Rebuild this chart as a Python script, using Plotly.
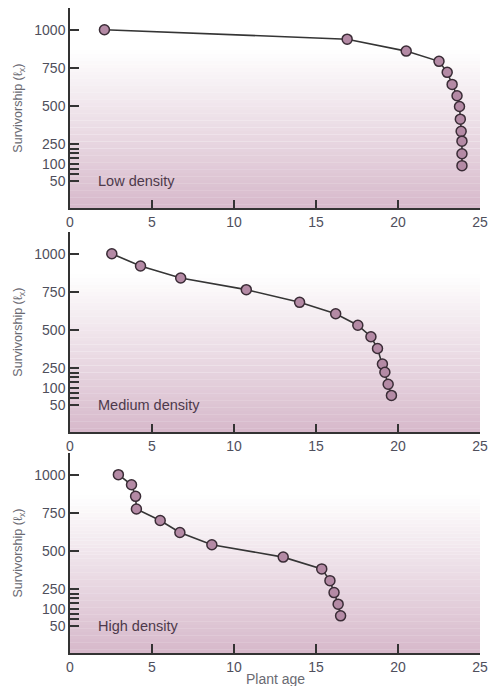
import numpy as np
import plotly.graph_objects as go

# ---------------- data ----------------
panel_labels = ["Low density", "Medium density", "High density"]

low_age = [2.1, 16.9, 20.5, 22.5, 23.0, 23.3, 23.6, 23.75, 23.8, 23.85, 23.9, 23.9, 23.9]
low_lx = [1000, 938, 860, 793, 721, 642, 568, 498, 415, 335, 271, 178, 95]

med_age = [2.55, 4.3, 6.75, 10.75, 14.0, 16.2, 17.55, 18.35, 18.75, 19.05, 19.2, 19.4, 19.6]
med_lx = [1000, 920, 841, 765, 682, 607, 532, 457, 380, 278, 220, 128, 78]

high_age = [2.95, 3.75, 4.0, 4.05, 5.5, 6.7, 8.65, 13.0, 15.35, 15.85, 16.1, 16.35, 16.5]
high_lx = [1000, 934, 858, 775, 700, 621, 541, 460, 383, 306, 224, 135, 79]

x_ticks = [0, 5, 10, 15, 20, 25]
y_tick_labels = ["1000", "750", "500", "250", "100", "50"]
y_tick_values = [1000, 750, 500, 250, 100, 50]

# The printed survivorship axis is linear above 250 and stretched below it.
scale_values = [50, 100, 250, 1000]
scale_pos = [11, 122, 250, 1000]


def to_axis(v):
    return np.interp(np.asarray(v, dtype=float), scale_values, scale_pos)


minor_pos = [220, 191, 158, 89, 55]  # unlabeled ticks of the stretched part

series = [(low_age, low_lx), (med_age, med_lx), (high_age, high_lx)]

# ---------------- figure ----------------
W, H = 488, 686
ml, mr, mt, mb = 70, 8, 8, 33
domains = [[0.6895, 1.0], [0.3422, 0.6527], [0.0, 0.3101]]
y_range = [-168, 1142]

fig = go.Figure()

FONT = "Liberation Sans, Arial, Helvetica, sans-serif"
tick_color = "#4f4f5c"
mark_fill = "#b48aa5"
mark_edge = "#3a2c36"
line_col = "#353535"

bottom_rgb = np.array([215, 185, 203])
top_rgb = np.array([255, 255, 255])
grad_top = 865
nb = 45

shapes = []
for i, (ages, lx) in enumerate(series):
    xa = "x" if i == 0 else f"x{i+1}"
    ya = "y" if i == 0 else f"y{i+1}"
    # gradient panel background (white at top, mauve at bottom)
    edges = np.linspace(y_range[0], grad_top, nb + 1)
    for k in range(nb):
        t = (k + 0.5) / nb  # 0 at bottom, 1 at top
        c = bottom_rgb + (top_rgb - bottom_rgb) * t
        shapes.append(dict(type="rect", xref=xa, yref=ya, x0=0, x1=25,
                           y0=edges[k], y1=edges[k + 1] + 1,
                           fillcolor=f"rgb({int(c[0])},{int(c[1])},{int(c[2])})",
                           line=dict(width=0), layer="below"))
    fig.add_trace(go.Scatter(
        x=ages, y=to_axis(lx), mode="lines+markers", xaxis=xa, yaxis=ya,
        line=dict(color=line_col, width=1.6),
        marker=dict(size=10, color=mark_fill, line=dict(color=mark_edge, width=1.5)),
        showlegend=False, cliponaxis=False,
    ))
    fig.add_annotation(x=1.6, y=9, xref=xa, yref=ya, text=panel_labels[i],
                       showarrow=False, xanchor="left", yanchor="middle",
                       font=dict(family=FONT, size=14.5, color="#4d3a4b"))

fig.add_annotation(x=0.5, y=0, xref="paper", yref="paper", yshift=-26,
                   text="Plant age", showarrow=False, xanchor="center", yanchor="middle",
                   font=dict(family=FONT, size=14, color="#6a6a72"))

tickvals = list(to_axis(y_tick_values)) + minor_pos
ticktext = y_tick_labels + [""] * len(minor_pos)

layout = dict(
    width=W, height=H,
    margin=dict(l=ml, r=mr, t=mt, b=mb, autoexpand=False),
    paper_bgcolor="white", plot_bgcolor="white",
    font=dict(family=FONT, size=14, color=tick_color),
    shapes=shapes,
)
for i in range(3):
    xk = "xaxis" if i == 0 else f"xaxis{i+1}"
    yk = "yaxis" if i == 0 else f"yaxis{i+1}"
    ya = "y" if i == 0 else f"y{i+1}"
    xa = "x" if i == 0 else f"x{i+1}"
    layout[xk] = dict(
        domain=[0, 1], anchor=ya, range=[0, 25], tickvals=x_ticks,
        ticks="inside", ticklen=9, tickwidth=1.5, tickcolor="#333",
        showline=True, linecolor="#333", linewidth=1.5, showgrid=False, zeroline=False,
        tickfont=dict(size=14, color=tick_color), automargin=False,
        ticklabeloverflow="allow",
    )
    layout[yk] = dict(
        domain=domains[i], anchor=xa, range=y_range,
        tickmode="array", tickvals=tickvals, ticktext=ticktext,
        ticks="inside", ticklen=9, tickwidth=1.5, tickcolor="#333",
        showline=True, linecolor="#333", linewidth=1.5, showgrid=False, zeroline=False,
        tickfont=dict(size=14, color=tick_color), automargin=False,
        ticklabeloverflow="allow",
        title=dict(text="Survivorship (ℓ<sub>x</sub>)",
                   font=dict(size=12.5, color="#6a6a72"), standoff=9),
    )

fig.update_layout(**layout)
fig.write_html(
    "out.html",
    config={"displayModeBar": False},
    post_script="document.body.style.margin='0';document.body.style.overflow='hidden';",
)
